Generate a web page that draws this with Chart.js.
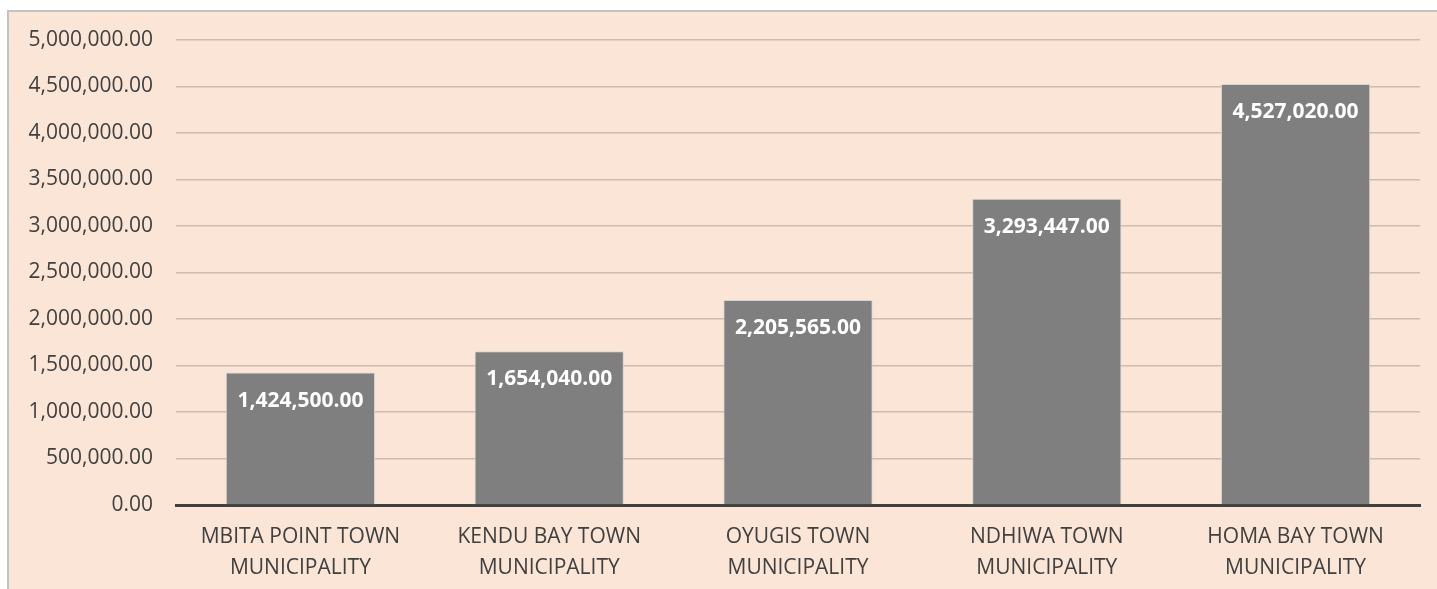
<!DOCTYPE html>
<html>
<head>
<meta charset="utf-8">
<script src="https://cdn.jsdelivr.net/npm/chart.js@4.4.1/dist/chart.umd.min.js"></script>
<style>
  html, body { margin: 0; padding: 0; background: #ffffff; }
  #frame {
    position: absolute;
    left: 7px;
    top: 10px;
    width: 1428px;
    height: 577px;
    border-left: 2px solid #c3c3c3;
    border-top: 2px solid #c3c3c3;
    background: #fbe5d6;
  }
  canvas { display: block; }
</style>
</head>
<body>
<div id="frame"><canvas id="chart" width="1428" height="577"></canvas></div>
<script>
const categories = [
  ["MBITA POINT TOWN", "MUNICIPALITY"],
  ["KENDU BAY TOWN", "MUNICIPALITY"],
  ["OYUGIS TOWN", "MUNICIPALITY"],
  ["NDHIWA TOWN", "MUNICIPALITY"],
  ["HOMA BAY TOWN", "MUNICIPALITY"]
];
const amounts = [1424500, 1654040, 2205565, 3293447, 4527020];
const yMin = 0;
const yMax = 5000000;
const yStep = 500000;

const fmt = v => v.toLocaleString("en-US", { minimumFractionDigits: 2, maximumFractionDigits: 2 });

// draws the value inside the top of each bar
const barLabels = {
  id: "barLabels",
  afterDatasetsDraw(chart) {
    const ctx = chart.ctx;
    const meta = chart.getDatasetMeta(0);
    ctx.save();
    ctx.fillStyle = "#ffffff";
    ctx.font = "bold 21px 'Open Sans'";
    ctx.textAlign = "center";
    ctx.textBaseline = "middle";
    meta.data.forEach((bar, i) => {
      ctx.fillText(fmt(amounts[i]), bar.x, bar.y + 28);
    });
    ctx.restore();
  }
};

new Chart(document.getElementById("chart"), {
  type: "bar",
  data: {
    labels: categories,
    datasets: [{
      data: amounts,
      backgroundColor: "#7f7f7f",
      borderColor: "#d6d6d6",
      borderWidth: 1,
      categoryPercentage: 1,
      barPercentage: 0.6
    }]
  },
  options: {
    responsive: false,
    animation: false,
    layout: { padding: { left: 0, right: 17, top: 28, bottom: 0 } },
    plugins: {
      legend: { display: false },
      tooltip: { enabled: false }
    },
    scales: {
      x: {
        grid: { display: false, drawTicks: false },
        border: { display: true, color: "#404040", width: 3 },
        ticks: {
          color: "#404040",
          font: { family: "'Open Sans'", size: 21, lineHeight: 1.45 },
          padding: 17,
          maxRotation: 0,
          autoSkip: false
        },
        afterFit(scale) { scale.height = 84; }
      },
      y: {
        min: yMin,
        max: yMax,
        grid: { color: "#cdbbaf", lineWidth: 1.4, drawTicks: false },
        border: { display: false },
        ticks: {
          stepSize: yStep,
          color: "#404040",
          font: { family: "'Open Sans'", size: 21 },
          padding: 23,
          callback: v => fmt(v)
        },
        afterFit(scale) {
          scale.width = 167;
          scale.paddingTop = 0;
          scale.paddingBottom = 0;
        }
      }
    }
  },
  plugins: [barLabels]
});
</script>
</body>
</html>
